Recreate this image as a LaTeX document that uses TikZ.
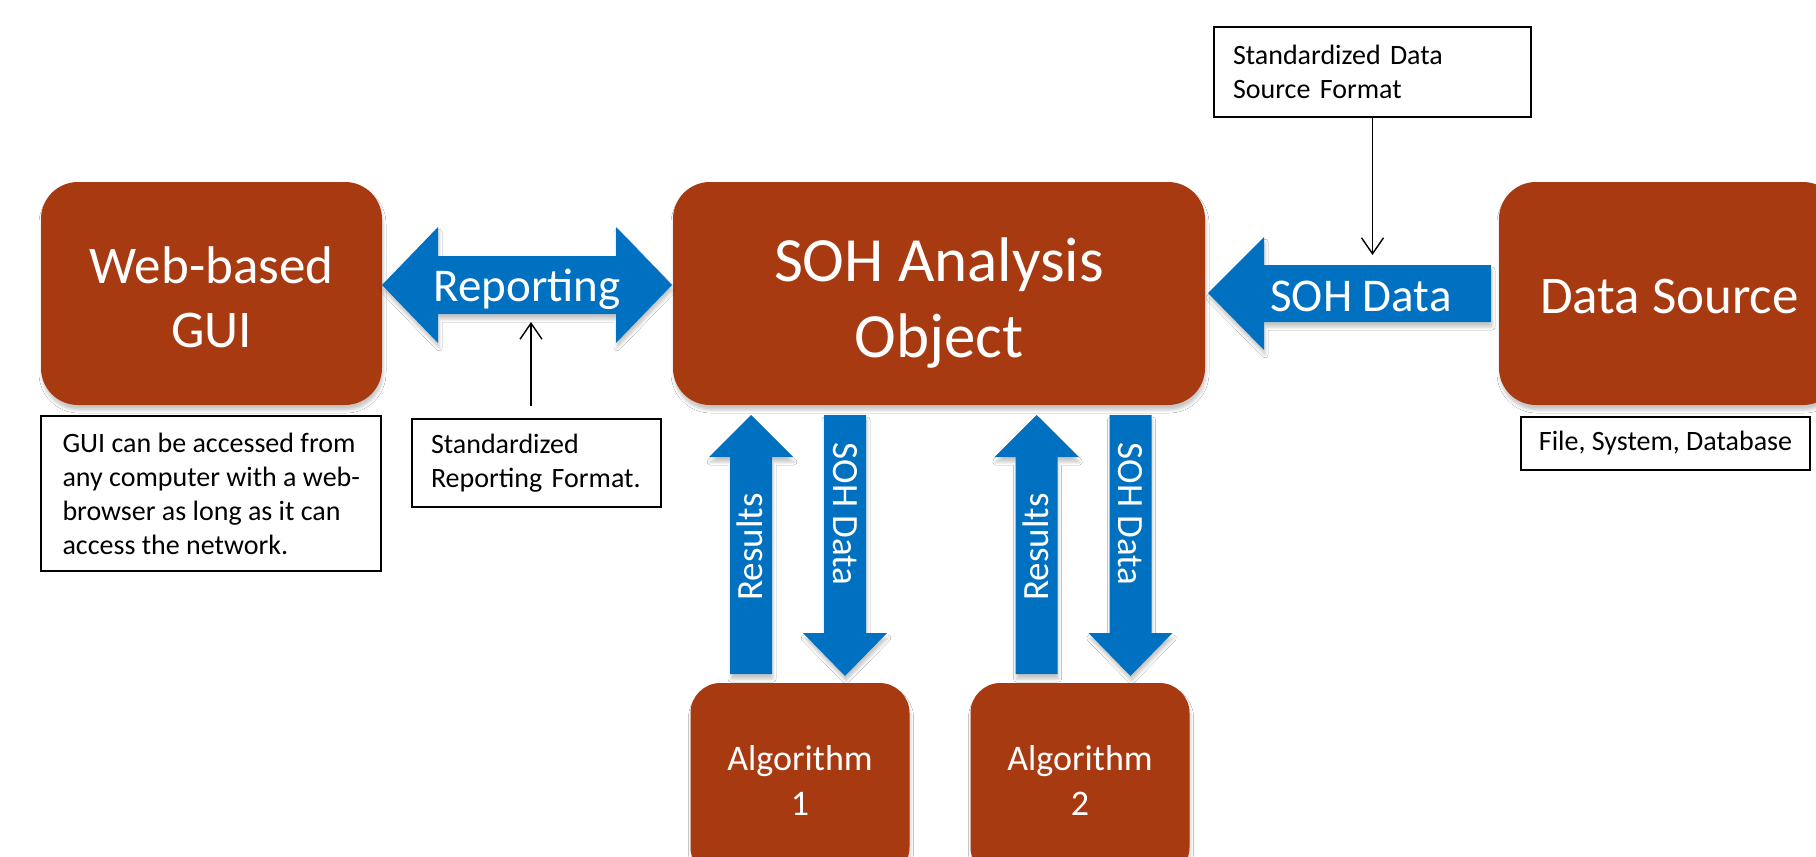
\documentclass[tikz,border=0pt]{standalone}
\usepackage{fontspec}
\setmainfont{Carlito}
\usetikzlibrary{arrows.meta,shadows.blur}
\definecolor{brn}{RGB}{168,58,18}
\definecolor{blu}{RGB}{0,112,192}
\newcommand{\fsz}[2]{\fontsize{#1}{#2}\selectfont}
\begin{document}
\begin{tikzpicture}[x=1pt,y=-1pt,
  shad/.style={blur shadow={shadow xshift=1pt,shadow yshift=-5pt,shadow blur radius=3pt,shadow opacity=22}},
  bigbox/.style={fill=brn, rounded corners=37pt, text=white, align=center, inner sep=0pt, shad,
                 minimum width=341pt, minimum height=223pt},
  algbox/.style={fill=brn, rounded corners=30pt, text=white, align=center, inner sep=0pt, shad,
                 minimum width=219pt, minimum height=194pt, font=\fsz{36}{45}},
  blockarrow/.style={fill=blu, shad},
  arrowtext/.style={text=white, inner sep=0pt, font=\fsz{47}{56}},
  vtext/.style={text=white, inner sep=0pt, font=\fsz{37}{44}},
  notebox/.style={draw=black, line width=1.6pt, fill=white, align=left, inner xsep=19pt, inner ysep=0pt, font=\fsz{28}{34}},
  thinarrow/.style={-{Straight Barb[length=16pt,width=22pt,line width=1.4pt]}, line width=1.4pt},
]
\useasboundingbox (0,0) rectangle (1816,857);
\clip (0,0) rectangle (1816,857);
\fill[white] (0,0) rectangle (1816,857);

% main boxes
\node[bigbox, font=\fsz{53}{64}] (gui) at (211.5,293.5) {};
\node[text=white, align=center, font=\fsz{53}{64}] (guitext) at (211.5,297) {Web-based\\GUI};
\node[bigbox, minimum width=532pt] (soh) at (939,293.5) {};
\node[text=white, align=center, font=\fsz{63}{76}] (sohtext) at (939,303) {SOH Analysis\\Object};
\node[bigbox, font=\fsz{53}{64}] (src) at (1669.5,293.5) {};
\node[text=white, font=\fsz{53}{64}] (srctext) at (1669.5,296) {Data Source};

% algorithm boxes
\node[algbox] (alg1) at (800,780) {Algorithm\\1};
\node[algbox] (alg2) at (1080,780) {Algorithm\\2};

% block arrows
\fill[blockarrow] (382,285) -- (438,227) -- (438,256) -- (616,256) -- (616,227) -- (672,285)
   -- (616,343) -- (616,314) -- (438,314) -- (438,343) -- cycle;
\node[arrowtext] (rep) at (527,289) {Reporting};

\fill[blockarrow] (1208,293) -- (1264,237) -- (1264,265) -- (1491,265) -- (1491,322)
   -- (1264,322) -- (1264,350) -- cycle;
\node[arrowtext] (sohd) at (1361,296) {SOH Data};

\fill[blockarrow] (751,415) -- (793,457) -- (772,457) -- (772,674) -- (730,674) -- (730,457) -- (709,457) -- cycle;
\node[vtext, rotate=90] (res1) at (750,547) {Results};
\fill[blockarrow] (824,415) -- (866,415) -- (866,633) -- (887,633) -- (845,676) -- (803,633) -- (824,633) -- cycle;
\node[vtext, rotate=-90] (sd1) at (845,514) {SOH Data};

\fill[blockarrow] (1036.5,415) -- (1078.5,457) -- (1057.5,457) -- (1057.5,674) -- (1015.5,674) -- (1015.5,457) -- (994.5,457) -- cycle;
\node[vtext, rotate=90] (res2) at (1035.5,547) {Results};
\fill[blockarrow] (1109.5,415) -- (1151.5,415) -- (1151.5,633) -- (1172.5,633) -- (1130.5,676) -- (1088.5,633) -- (1109.5,633) -- cycle;
\node[vtext, rotate=-90] (sd2) at (1130.5,514) {SOH Data};

% notes
\node[notebox, minimum width=340pt, minimum height=155pt, inner xsep=0pt] (guinote) at (211.25,493.5)
  {GUI can be accessed from\\any computer with a web-\\browser as long as it can\\access the network.};
\node[notebox, text width=211pt, minimum height=88pt] (repnote) at (536.5,463)
  {Standardized\\Reporting Format.};
\node[notebox, text width=279pt, minimum height=90pt] (dsfmt) at (1372.5,72)
  {Standardized Data\\Source Format};
\node[notebox, minimum width=289pt, minimum height=53pt, inner xsep=0pt] (filenote) at (1665.5,443.5)
  {File, System, Database};

% thin arrows
\coordinate (repout) at (531,406);
\coordinate (repin) at (531,322);
\draw[thinarrow] (repout) -- (repin);
\coordinate (dsin) at (1372.5,255);
\draw[thinarrow] (dsfmt.south) -- (dsin);
\end{tikzpicture}
\end{document}
